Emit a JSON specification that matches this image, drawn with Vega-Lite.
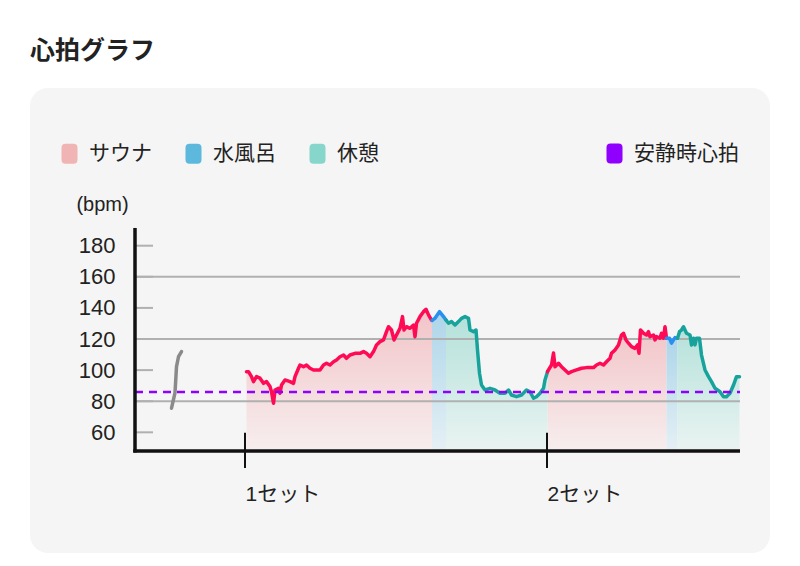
{
  "$schema": "https://vega.github.io/schema/vega-lite/v6.json",
  "width": 740,
  "height": 465,
  "autosize": {"type": "none"},
  "padding": {"left": 30, "top": 88, "right": 30, "bottom": 13},
  "background": "#ffffff",
  "view": {"fill": "#f5f5f5", "stroke": null, "cornerRadius": 18},
  "config": {
    "view": {"fill": "#f5f5f5", "stroke": null, "cornerRadius": 18},
    "font": "Liberation Sans, Noto Sans CJK JP",
    "axisY": {"labelFontSize": 22, "labelFont": "Liberation Sans", "labelColor": "#222222", "titleFontSize": 20, "titleFont": "Liberation Sans", "titleColor": "#222222", "titleFontWeight": "normal"},
    "axisX": {"labelFontSize": 21, "labelFont": "Liberation Sans, Noto Sans CJK JP", "labelColor": "#222222"}
  },
  "title": {"text": "心拍グラフ", "anchor": "start", "frame": "group", "fontSize": 25, "fontWeight": "bold", "font": "Noto Sans CJK JP", "color": "#222222", "offset": 24},
  "datasets": {
    "hr": [
      {"t":7.3,"bpm":75.5,"seg":"pre"},{"t":8.0,"bpm":85.3,"seg":"pre"},{"t":8.3,"bpm":102.2,"seg":"pre"},{"t":8.7,"bpm":108.6,"seg":"pre"},{"t":9.3,"bpm":111.9,"seg":"pre"},
      {"t":22.3,"bpm":99.0,"seg":"s1"},{"t":22.7,"bpm":99.0,"seg":"s1"},{"t":23.3,"bpm":95.8,"seg":"s1"},{"t":23.7,"bpm":92.6,"seg":"s1"},{"t":24.3,"bpm":95.8,"seg":"s1"},{"t":25.0,"bpm":94.8,"seg":"s1"},{"t":25.7,"bpm":91.5,"seg":"s1"},{"t":26.3,"bpm":92.6,"seg":"s1"},{"t":27.0,"bpm":89.4,"seg":"s1"},{"t":27.3,"bpm":86.1,"seg":"s1"},{"t":27.7,"bpm":78.7,"seg":"s1"},{"t":28.0,"bpm":87.2,"seg":"s1"},{"t":28.7,"bpm":88.3,"seg":"s1"},{"t":29.0,"bpm":85.1,"seg":"s1"},{"t":29.3,"bpm":90.4,"seg":"s1"},{"t":30.0,"bpm":93.7,"seg":"s1"},{"t":31.0,"bpm":92.6,"seg":"s1"},{"t":31.7,"bpm":91.5,"seg":"s1"},{"t":32.0,"bpm":95.8,"seg":"s1"},{"t":32.7,"bpm":101.2,"seg":"s1"},{"t":33.0,"bpm":103.3,"seg":"s1"},{"t":33.7,"bpm":102.2,"seg":"s1"},{"t":34.3,"bpm":103.3,"seg":"s1"},{"t":35.0,"bpm":101.2,"seg":"s1"},{"t":35.7,"bpm":100.1,"seg":"s1"},{"t":37.0,"bpm":100.1,"seg":"s1"},{"t":37.7,"bpm":103.3,"seg":"s1"},{"t":38.3,"bpm":104.4,"seg":"s1"},{"t":39.0,"bpm":103.3,"seg":"s1"},{"t":39.7,"bpm":105.4,"seg":"s1"},{"t":40.3,"bpm":106.5,"seg":"s1"},{"t":41.0,"bpm":108.6,"seg":"s1"},{"t":41.7,"bpm":109.7,"seg":"s1"},{"t":42.3,"bpm":107.6,"seg":"s1"},{"t":43.0,"bpm":109.7,"seg":"s1"},{"t":44.0,"bpm":110.8,"seg":"s1"},{"t":45.0,"bpm":110.8,"seg":"s1"},{"t":45.7,"bpm":111.9,"seg":"s1"},{"t":46.3,"bpm":110.8,"seg":"s1"},{"t":47.0,"bpm":108.6,"seg":"s1"},{"t":47.7,"bpm":111.9,"seg":"s1"},{"t":48.3,"bpm":116.2,"seg":"s1"},{"t":49.0,"bpm":118.3,"seg":"s1"},{"t":49.7,"bpm":119.4,"seg":"s1"},{"t":50.3,"bpm":124.7,"seg":"s1"},{"t":50.7,"bpm":127.9,"seg":"s1"},{"t":51.3,"bpm":125.8,"seg":"s1"},{"t":51.8,"bpm":119.4,"seg":"s1"},{"t":52.3,"bpm":122.6,"seg":"s1"},{"t":53.0,"bpm":126.9,"seg":"s1"},{"t":53.5,"bpm":134.4,"seg":"s1"},{"t":53.8,"bpm":125.8,"seg":"s1"},{"t":54.3,"bpm":127.9,"seg":"s1"},{"t":55.0,"bpm":126.9,"seg":"s1"},{"t":55.7,"bpm":129.0,"seg":"s1"},{"t":56.0,"bpm":121.5,"seg":"s1"},{"t":56.3,"bpm":130.1,"seg":"s1"},{"t":57.0,"bpm":134.4,"seg":"s1"},{"t":57.7,"bpm":137.6,"seg":"s1"},{"t":58.2,"bpm":139.1,"seg":"s1"},{"t":58.7,"bpm":135.5,"seg":"s1"},{"t":59.3,"bpm":132.2,"seg":"s1"},{"t":59.4,"bpm":132.0,"seg":"s1"},
      {"t":59.4,"bpm":132.0,"seg":"w1"},{"t":60.0,"bpm":133.3,"seg":"w1"},{"t":60.9,"bpm":137.6,"seg":"w1"},{"t":61.7,"bpm":134.4,"seg":"w1"},{"t":62.2,"bpm":132.2,"seg":"w1"},
      {"t":62.2,"bpm":132.2,"seg":"r1"},{"t":62.7,"bpm":130.1,"seg":"r1"},{"t":63.3,"bpm":131.2,"seg":"r1"},{"t":64.0,"bpm":129.0,"seg":"r1"},{"t":64.7,"bpm":131.2,"seg":"r1"},{"t":65.3,"bpm":133.3,"seg":"r1"},{"t":66.0,"bpm":134.4,"seg":"r1"},{"t":66.7,"bpm":133.3,"seg":"r1"},{"t":67.0,"bpm":125.8,"seg":"r1"},{"t":67.7,"bpm":124.7,"seg":"r1"},{"t":68.2,"bpm":125.8,"seg":"r1"},{"t":68.5,"bpm":113.0,"seg":"r1"},{"t":68.9,"bpm":98.0,"seg":"r1"},{"t":69.3,"bpm":90.4,"seg":"r1"},{"t":70.0,"bpm":87.2,"seg":"r1"},{"t":71.0,"bpm":88.3,"seg":"r1"},{"t":72.0,"bpm":87.2,"seg":"r1"},{"t":73.0,"bpm":85.1,"seg":"r1"},{"t":74.0,"bpm":85.1,"seg":"r1"},{"t":74.7,"bpm":87.2,"seg":"r1"},{"t":75.3,"bpm":84.0,"seg":"r1"},{"t":76.3,"bpm":82.9,"seg":"r1"},{"t":77.3,"bpm":84.0,"seg":"r1"},{"t":78.3,"bpm":87.2,"seg":"r1"},{"t":79.0,"bpm":86.1,"seg":"r1"},{"t":79.7,"bpm":81.9,"seg":"r1"},{"t":80.3,"bpm":82.9,"seg":"r1"},{"t":81.0,"bpm":85.1,"seg":"r1"},{"t":81.7,"bpm":88.3,"seg":"r1"},{"t":82.0,"bpm":93.7,"seg":"r1"},{"t":82.5,"bpm":99.0,"seg":"r1"},
      {"t":82.5,"bpm":99.0,"seg":"s2"},{"t":82.7,"bpm":100.1,"seg":"s2"},{"t":83.3,"bpm":103.3,"seg":"s2"},{"t":83.7,"bpm":111.0,"seg":"s2"},{"t":84.0,"bpm":102.2,"seg":"s2"},{"t":84.7,"bpm":104.4,"seg":"s2"},{"t":85.3,"bpm":102.2,"seg":"s2"},{"t":86.0,"bpm":100.1,"seg":"s2"},{"t":86.7,"bpm":98.0,"seg":"s2"},{"t":87.3,"bpm":99.0,"seg":"s2"},{"t":88.3,"bpm":100.1,"seg":"s2"},{"t":89.3,"bpm":101.2,"seg":"s2"},{"t":90.3,"bpm":101.6,"seg":"s2"},{"t":91.7,"bpm":101.6,"seg":"s2"},{"t":92.3,"bpm":103.3,"seg":"s2"},{"t":93.0,"bpm":104.4,"seg":"s2"},{"t":93.7,"bpm":103.3,"seg":"s2"},{"t":94.3,"bpm":105.4,"seg":"s2"},{"t":95.0,"bpm":107.6,"seg":"s2"},{"t":95.3,"bpm":110.8,"seg":"s2"},{"t":96.0,"bpm":113.0,"seg":"s2"},{"t":96.7,"bpm":116.2,"seg":"s2"},{"t":97.3,"bpm":122.6,"seg":"s2"},{"t":97.7,"bpm":123.7,"seg":"s2"},{"t":98.2,"bpm":119.4,"seg":"s2"},{"t":98.7,"bpm":117.3,"seg":"s2"},{"t":99.3,"bpm":115.1,"seg":"s2"},{"t":100.0,"bpm":114.0,"seg":"s2"},{"t":100.5,"bpm":116.2,"seg":"s2"},{"t":100.8,"bpm":110.8,"seg":"s2"},{"t":101.1,"bpm":125.8,"seg":"s2"},{"t":101.7,"bpm":123.7,"seg":"s2"},{"t":102.3,"bpm":122.6,"seg":"s2"},{"t":102.7,"bpm":124.7,"seg":"s2"},{"t":103.0,"bpm":121.5,"seg":"s2"},{"t":103.7,"bpm":122.6,"seg":"s2"},{"t":104.0,"bpm":119.4,"seg":"s2"},{"t":104.3,"bpm":121.5,"seg":"s2"},{"t":105.0,"bpm":120.5,"seg":"s2"},{"t":105.3,"bpm":123.7,"seg":"s2"},{"t":105.7,"bpm":120.5,"seg":"s2"},{"t":106.0,"bpm":127.9,"seg":"s2"},{"t":106.3,"bpm":120.5,"seg":"s2"},
      {"t":106.3,"bpm":120.5,"seg":"w2"},{"t":106.9,"bpm":120.5,"seg":"w2"},{"t":107.3,"bpm":117.3,"seg":"w2"},{"t":107.7,"bpm":119.4,"seg":"w2"},{"t":108.0,"bpm":120.9,"seg":"w2"},{"t":108.5,"bpm":120.5,"seg":"w2"},
      {"t":108.5,"bpm":120.5,"seg":"r2"},{"t":108.9,"bpm":124.7,"seg":"r2"},{"t":109.3,"bpm":125.8,"seg":"r2"},{"t":109.7,"bpm":127.9,"seg":"r2"},{"t":110.0,"bpm":125.8,"seg":"r2"},{"t":110.3,"bpm":123.7,"seg":"r2"},{"t":111.0,"bpm":122.6,"seg":"r2"},{"t":111.3,"bpm":116.2,"seg":"r2"},{"t":111.7,"bpm":120.5,"seg":"r2"},{"t":112.0,"bpm":116.2,"seg":"r2"},{"t":112.3,"bpm":120.5,"seg":"r2"},{"t":112.9,"bpm":120.5,"seg":"r2"},{"t":113.3,"bpm":109.7,"seg":"r2"},{"t":114.0,"bpm":100.1,"seg":"r2"},{"t":114.7,"bpm":95.8,"seg":"r2"},{"t":115.3,"bpm":92.6,"seg":"r2"},{"t":116.0,"bpm":88.3,"seg":"r2"},{"t":117.0,"bpm":86.1,"seg":"r2"},{"t":117.7,"bpm":82.9,"seg":"r2"},{"t":118.3,"bpm":82.9,"seg":"r2"},{"t":119.0,"bpm":85.1,"seg":"r2"},{"t":119.7,"bpm":90.4,"seg":"r2"},{"t":120.3,"bpm":95.8,"seg":"r2"},{"t":120.9,"bpm":95.8,"seg":"r2"}
    ],
    "phases": [{"phase": "サウナ"}, {"phase": "水風呂"}, {"phase": "休憩"}],
    "rest": [{"name": "安静時心拍"}],
    "one": [{}],
    "grid": [{"g": 160}, {"g": 120}, {"g": 80}],
    "yticks": [{"g": 60}, {"g": 80}, {"g": 100}, {"g": 120}, {"g": 140}, {"g": 160}, {"g": 180}],
    "xticks": [{"k": 22}, {"k": 82.4}]
  },
  "layer": [
    {
      "data": {"name": "hr"},
      "transform": [{"filter": {"field": "seg", "oneOf": ["s1", "s2"]}}],
      "mark": {"type": "area", "color": {"gradient": "linear", "x1": 0, "y1": 0, "x2": 0, "y2": 1, "stops": [{"offset": 0, "color": "#f2c4c8"}, {"offset": 1, "color": "#f7eeee"}]}},
      "encoding": {
        "x": {"field": "t", "type": "quantitative", "scale": {"domain": [-21, 127], "nice": false, "zero": false},
          "axis": {"values": [22, 82.4], "labelExpr": "datum.value < 50 ? '1セット' : '2セット'", "offset": -102, "domain": false, "ticks": false, "grid": false, "labelPadding": 32, "labelAlign": "left", "labelBaseline": "top", "labelFontSize": 21, "labelColor": "#222222", "labelFont": "Liberation Sans, Noto Sans CJK JP", "labelFlush": false, "labelOverlap": false, "title": null}},
        "y": {"field": "bpm", "type": "quantitative", "scale": {"domain": [-17.6, 281.4], "nice": false, "zero": false},
          "axis": {"values": [60, 80, 100, 120, 140, 160, 180], "offset": -105, "domain": false, "ticks": false, "grid": false, "labelPadding": 20, "labelFontSize": 22, "labelColor": "#222222", "labelFont": "Liberation Sans", "labelOverlap": false, "labelFlush": false, "labelBaseline": "middle", "title": "(bpm)", "titleAngle": 0, "titleX": -33, "titleY": 116, "titleAlign": "center", "titleBaseline": "middle", "titleFontSize": 20, "titleFontWeight": "normal", "titleColor": "#222222", "titleFont": "Liberation Sans"}},
        "y2": {"datum": 48},
        "detail": {"field": "seg"}
      }
    },
    {
      "data": {"name": "hr"},
      "transform": [{"filter": {"field": "seg", "oneOf": ["w1", "w2"]}}],
      "mark": {"type": "area", "color": {"gradient": "linear", "x1": 0, "y1": 0, "x2": 0, "y2": 1, "stops": [{"offset": 0, "color": "#acd5e9"}, {"offset": 1, "color": "#e6f0f5"}]}},
      "encoding": {
        "x": {"field": "t", "type": "quantitative"},
        "y": {"field": "bpm", "type": "quantitative"},
        "y2": {"datum": 48},
        "detail": {"field": "seg"}
      }
    },
    {
      "data": {"name": "hr"},
      "transform": [{"filter": {"field": "seg", "oneOf": ["r1", "r2"]}}],
      "mark": {"type": "area", "color": {"gradient": "linear", "x1": 0, "y1": 0, "x2": 0, "y2": 1, "stops": [{"offset": 0, "color": "#b4e1da"}, {"offset": 1, "color": "#eaf4f2"}]}},
      "encoding": {
        "x": {"field": "t", "type": "quantitative"},
        "y": {"field": "bpm", "type": "quantitative"},
        "y2": {"datum": 48},
        "detail": {"field": "seg"}
      }
    },
    {
      "data": {"name": "grid"},
      "mark": {"type": "rule", "color": "#b0b0b0", "strokeWidth": 2},
      "encoding": {"y": {"field": "g", "type": "quantitative"}, "x": {"datum": 0}, "x2": {"datum": 121}}
    },
    {
      "data": {"name": "yticks"},
      "mark": {"type": "rule", "color": "#b0b0b0", "strokeWidth": 2},
      "encoding": {"y": {"field": "g", "type": "quantitative"}, "x": {"datum": 0}, "x2": {"datum": 3.6}}
    },
    {
      "data": {"name": "hr"},
      "mark": {"type": "line", "strokeWidth": 3.5, "strokeJoin": "round", "strokeCap": "round"},
      "encoding": {
        "x": {"field": "t", "type": "quantitative"},
        "y": {"field": "bpm", "type": "quantitative"},
        "stroke": {"field": "seg", "type": "nominal", "scale": {"domain": ["pre", "s1", "w1", "r1", "s2", "w2", "r2"], "range": ["#8a8a8a", "#ff0a54", "#2b8ff0", "#17a39c", "#ff0a54", "#2b8ff0", "#17a39c"]}, "legend": null}
      }
    },
    {
      "data": {"name": "one"},
      "mark": {"type": "rule", "color": "#8f00ff", "strokeWidth": 2.5, "strokeDash": [8, 6]},
      "encoding": {"y": {"datum": 86}, "x": {"datum": 0}, "x2": {"datum": 121}}
    },
    {
      "data": {"name": "one"},
      "mark": {"type": "rule", "color": "#111111", "strokeWidth": 3.5},
      "encoding": {"x": {"datum": 0}, "y": {"datum": 47}, "y2": {"datum": 191.4}}
    },
    {
      "data": {"name": "one"},
      "mark": {"type": "rule", "color": "#111111", "strokeWidth": 3.5},
      "encoding": {"y": {"datum": 48}, "x": {"datum": -0.35}, "x2": {"datum": 121}}
    },
    {
      "data": {"name": "xticks"},
      "mark": {"type": "rule", "color": "#111111", "strokeWidth": 2},
      "encoding": {"x": {"field": "k", "type": "quantitative"}, "y": {"datum": 37.1}, "y2": {"datum": 59.8}}
    },
    {
      "data": {"name": "phases"},
      "mark": {"type": "point", "filled": true, "opacity": 0},
      "encoding": {
        "fill": {"field": "phase", "type": "nominal", "scale": {"domain": ["サウナ", "水風呂", "休憩"], "range": ["#f0b4b4", "#5db8dd", "#86d6cc"]},
          "legend": {"orient": "none", "legendX": 29, "legendY": 55, "direction": "horizontal", "title": null, "padding": 0,
            "symbolType": "M-0.4,-1L0.4,-1Q0.8,-1 0.8,-0.6L0.8,0.6Q0.8,1 0.4,1L-0.4,1Q-0.8,1 -0.8,0.6L-0.8,-0.6Q-0.8,-1 -0.4,-1Z",
            "symbolSize": 400, "symbolOpacity": 1, "symbolStrokeWidth": 0, "labelFontSize": 21, "labelOffset": 9, "columnPadding": 31,
            "labelFont": "Noto Sans CJK JP", "labelColor": "#222222"}}
      }
    },
    {
      "data": {"name": "rest"},
      "mark": {"type": "point", "filled": true, "opacity": 0},
      "encoding": {
        "color": {"field": "name", "type": "nominal", "scale": {"domain": ["安静時心拍"], "range": ["#8f00ff"]},
          "legend": {"orient": "none", "legendX": 574, "legendY": 55, "direction": "horizontal", "title": null, "padding": 0,
            "symbolType": "M-0.4,-1L0.4,-1Q0.8,-1 0.8,-0.6L0.8,0.6Q0.8,1 0.4,1L-0.4,1Q-0.8,1 -0.8,0.6L-0.8,-0.6Q-0.8,-1 -0.4,-1Z",
            "symbolSize": 400, "symbolOpacity": 1, "symbolStrokeWidth": 0, "labelFontSize": 21, "labelOffset": 9,
            "labelFont": "Noto Sans CJK JP", "labelColor": "#222222"}}
      }
    }
  ]
}
